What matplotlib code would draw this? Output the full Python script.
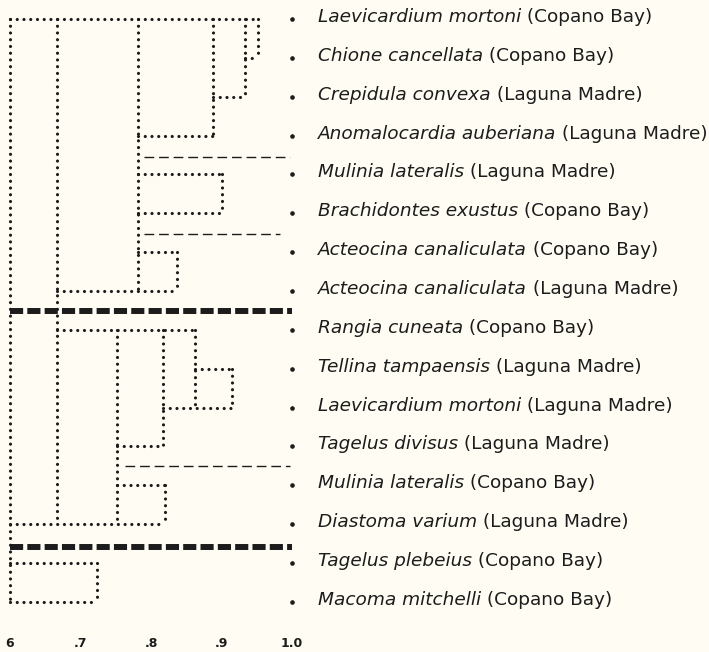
import matplotlib
matplotlib.use('Agg')
import matplotlib.pyplot as plt

# leaf labels, top to bottom
species = ['Laevicardium mortoni', 'Chione cancellata', 'Crepidula convexa',
           'Anomalocardia auberiana', 'Mulinia lateralis', 'Brachidontes exustus',
           'Acteocina canaliculata', 'Acteocina canaliculata', 'Rangia cuneata',
           'Tellina tampaensis', 'Laevicardium mortoni', 'Tagelus divisus',
           'Mulinia lateralis', 'Diastoma varium', 'Tagelus plebeius',
           'Macoma mitchelli']
sites = ['Copano Bay', 'Copano Bay', 'Laguna Madre', 'Laguna Madre',
         'Laguna Madre', 'Copano Bay', 'Copano Bay', 'Laguna Madre',
         'Copano Bay', 'Laguna Madre', 'Laguna Madre', 'Laguna Madre',
         'Copano Bay', 'Laguna Madre', 'Copano Bay', 'Copano Bay']

# horizontal dotted line of each row: from left level to right level
row_left = [0.600, 0.933, 0.888, 0.782, 0.782, 0.782, 0.782, 0.667,
            0.667, 0.862, 0.817, 0.752, 0.752, 0.600, 0.600, 0.600]
row_right = [0.952, 0.952, 0.933, 0.888, 0.901, 0.901, 0.837, 0.837,
             0.862, 0.915, 0.915, 0.817, 0.820, 0.820, 0.723, 0.723]

# vertical dotted lines: similarity level, first row, last row
v_level = [0.600, 0.667, 0.782, 0.888, 0.933, 0.952, 0.901, 0.837,
           0.752, 0.817, 0.862, 0.915, 0.820, 0.723]
v_top = [0, 0, 0, 0, 0, 0, 4, 6, 8, 8, 8, 9, 12, 14]
v_bottom = [15, 13, 7, 3, 2, 1, 5, 7, 13, 11, 10, 10, 13, 15]

# group separators
thin_y = [3.55, 5.53, 11.5]
thin_from = [0.790, 0.790, 0.763]
thin_to = [0.997, 0.983, 0.997]
thick_y = [7.52, 13.6]

tick_vals = [0.6, 0.7, 0.8, 0.9, 1.0]
tick_text = ['6', '.7', '.8', '.9', '1.0']

bg = '#fffdf3'
ink = '#1c1c1c'

fig = plt.figure(figsize=(7.09, 6.52), dpi=100, facecolor=bg)
ax = fig.add_axes([0, 0, 1, 1])
ax.set_facecolor(bg)
ax.set_xlim(0.6 - 10 / 705, 0.6 + 699 / 705)
ax.set_ylim((652 - 19) / 38.85, -19 / 38.85)
ax.axis('off')

dots = dict(color=ink, lw=2.3, linestyle=(0, (0.01, 2.1)),
            dash_capstyle='round')

for i in range(len(species)):
    ax.plot([row_left[i], row_right[i]], [i, i], **dots)
for lv, a, b in zip(v_level, v_top, v_bottom):
    ax.plot([lv, lv], [a, b], **dots)

for y, a, b in zip(thin_y, thin_from, thin_to):
    ax.plot([a, b], [y, y], color=ink, lw=1.0, linestyle=(0, (7, 3.5)))
for y in thick_y:
    ax.plot([0.6, 1.0], [y, y], color=ink, lw=4.3,
            linestyle=(0, (2.2, 0.7)), dash_capstyle='butt')

ax.plot([1.0] * len(species), range(len(species)), 'o', color=ink, ms=2.3)

for i, (sp, site) in enumerate(zip(species, sites)):
    t = ax.text(1.037, i - 0.05, sp, fontsize=13.3, style='italic', color=ink,
                family='DejaVu Sans', va='center', ha='left')
    ax.annotate(' (' + site + ')', xy=(1, 0), xycoords=t, va='bottom',
                ha='left', fontsize=13.3, color=ink, family='DejaVu Sans')

for v, s in zip(tick_vals, tick_text):
    ax.text(v, 16.08, s, fontsize=9, color=ink, ha='center', va='center',
            family='DejaVu Sans', weight='bold')

fig.savefig('out.png', dpi=100, facecolor=bg)
